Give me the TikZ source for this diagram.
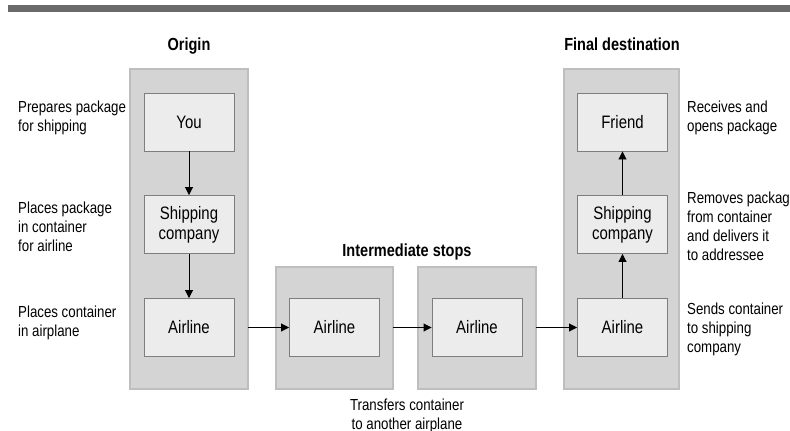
\documentclass[tikz,border=0pt]{standalone}
\usepackage{fontspec}
\setmainfont{Liberation Sans}[FakeStretch=0.83]
\usetikzlibrary{arrows.meta}
\definecolor{barcol}{HTML}{6A6A6A}
\definecolor{panelfill}{HTML}{D4D4D4}
\definecolor{panelline}{HTML}{BEBEBE}
\definecolor{boxfill}{HTML}{ECECEC}
\definecolor{boxline}{HTML}{7E7E7E}
\tikzset{
  panel/.style={draw=panelline, fill=panelfill, line width=1.2pt},
  stepbox/.style={draw=boxline, fill=boxfill, line width=0.9pt, minimum width=90pt, minimum height=58pt, inner sep=0pt, align=center, font=\fontsize{18}{20}\selectfont},
  lbl/.style={inner sep=0pt, align=left, font=\fontsize{16}{18.8}\selectfont},
  ttl/.style={inner sep=0pt, align=center, font=\fontsize{17.5}{20}\selectfont\bfseries},
  conn/.style={line width=0.9pt, -{Triangle[length=8pt,width=8pt]}}
}
\begin{document}
\begin{tikzpicture}[x=1pt,y=-1pt]
\useasboundingbox (0,0) rectangle (790,431);
\fill[barcol] (8,5) rectangle (790,12);
% panels
\path[panel] (130,69) rectangle (248,389);
\node[inner sep=0pt, minimum width=118pt, minimum height=320pt] (orig) at (189,229) {};
\path[panel] (276,267) rectangle (393,389);
\node[inner sep=0pt, minimum width=117pt, minimum height=122pt] (inter1) at (334.5,328) {};
\path[panel] (418,267) rectangle (536,389);
\node[inner sep=0pt, minimum width=118pt, minimum height=122pt] (inter2) at (477,328) {};
\path[panel] (564,69) rectangle (679,389);
\node[inner sep=0pt, minimum width=115pt, minimum height=320pt] (final) at (621.5,229) {};
% titles
\node[ttl, anchor=base] (t1) at (189,50) {Origin};
\node[ttl, anchor=base] (t2) at (622,50) {Final destination};
\node[ttl, anchor=base] (t3) at (407,256) {Intermediate stops};
% boxes
\node[stepbox] (you) at (189,122) {You};
\node[stepbox] (ship1) at (189,224.5) {Shipping\\company};
\node[stepbox] (air1) at (189,327.5) {Airline};
\node[stepbox] (air2) at (334.5,327.5) {Airline};
\node[stepbox] (air3) at (477,327.5) {Airline};
\node[stepbox] (air4) at (622.5,327.5) {Airline};
\node[stepbox] (ship2) at (622.5,224.5) {Shipping\\company};
\node[stepbox] (friend) at (622.5,122) {Friend};
% connectors
\draw[conn] (you) -- (ship1);
\draw[conn] (ship1) -- (air1);
\draw[conn] (orig.east |- air1.east) -- (air2.west);
\draw[conn] (inter1.east |- air2.east) -- (air3.west);
\draw[conn] (inter2.east |- air3.east) -- (air4.west);
\draw[conn] (air4) -- (ship2);
\draw[conn] (ship2) -- (friend);
% labels (base anchor = baseline of last line)
\node[lbl, anchor=base west] (l1) at (18,131) {Prepares package\\for shipping};
\node[lbl, anchor=base west] (l2) at (18,251) {Places package\\in container\\for airline};
\node[lbl, anchor=base west] (l3) at (18,336) {Places container\\in airplane};
\node[lbl, anchor=base west] (r1) at (687,131) {Receives and\\opens package};
\node[lbl, anchor=base west] (r2) at (687,260) {Removes package\\from container\\and delivers it\\to addressee};
\node[lbl, anchor=base west] (r3) at (687,352) {Sends container\\to shipping\\company};
\node[lbl, align=center, anchor=base] (b1) at (407,429) {Transfers container\\to another airplane};
\end{tikzpicture}
\end{document}
